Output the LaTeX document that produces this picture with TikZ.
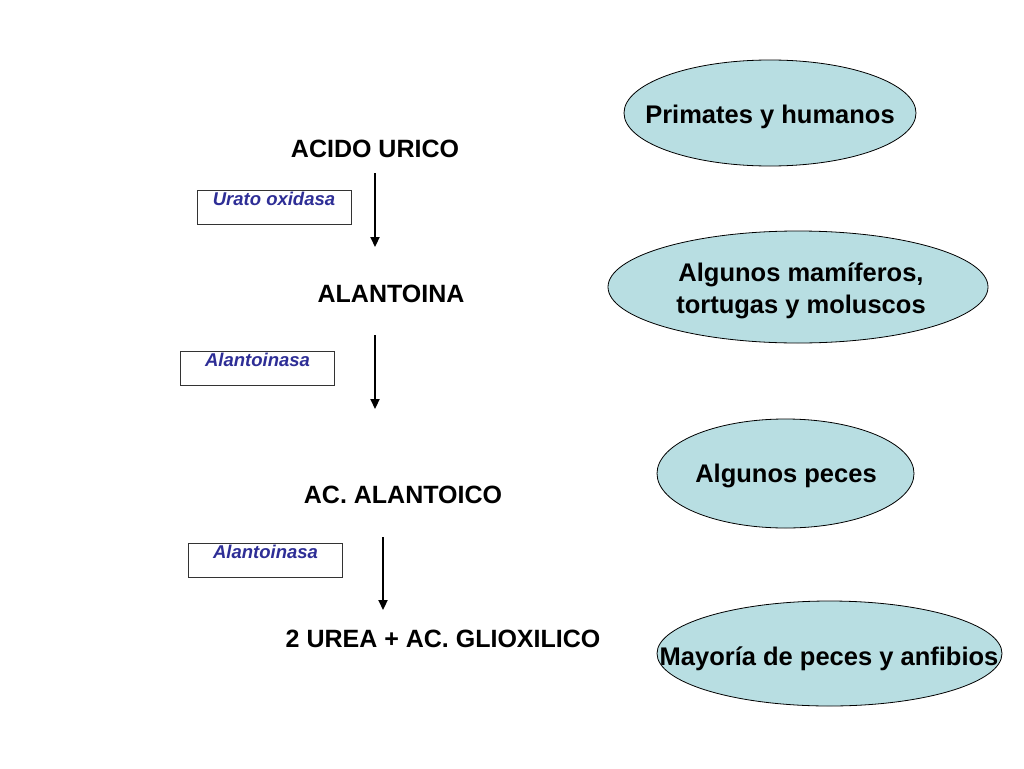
\documentclass[tikz,border=0pt]{standalone}
\usepackage{fontspec}
\setmainfont{Liberation Sans}
\usetikzlibrary{shapes.geometric,arrows.meta}
\definecolor{ellfill}{RGB}{184,222,226}
\definecolor{enzblue}{RGB}{46,46,150}
\tikzset{
  x=1pt,y=-1pt,
  mainlbl/.style={font=\fontsize{25}{30}\selectfont\bfseries, inner sep=0pt},
  enzbox/.style={draw=black!80, line width=0.8pt, minimum width=154pt, minimum height=34pt, inner sep=0pt},
  enztxt/.style={font=\fontsize{18.5}{22}\selectfont\bfseries\itshape, text=enzblue, inner sep=0pt, anchor=north},
  organism/.style={ellipse, draw=black, line width=0.8pt, fill=ellfill, inner sep=0pt},
  orgtxt/.style={align=center, inner sep=0pt, font=\fontsize{25.5}{32}\selectfont\bfseries},
  reacarrow/.style={line width=2.2pt, -{Triangle[width=9pt,length=10pt]}}
}
\begin{document}
\begin{tikzpicture}
\useasboundingbox (0,0) rectangle (1024,768);
\fill[white] (0,0) rectangle (1024,768);
% metabolites
\node[mainlbl] (acu) at (375,149) {ACIDO URICO};
\node[mainlbl] (alan) at (391,294) {ALANTOINA};
\node[mainlbl] (acal) at (403,495) {AC. ALANTOICO};
\node[mainlbl] (urea) at (443,639) {2 UREA + AC. GLIOXILICO};
% arrows
\coordinate (a1s) at (375,173); \coordinate (a1e) at (375,247);
\coordinate (a2s) at (375,335); \coordinate (a2e) at (375,409);
\coordinate (a3s) at (383,537); \coordinate (a3e) at (383,610);
\draw[reacarrow] (a1s) -- (a1e);
\draw[reacarrow] (a2s) -- (a2e);
\draw[reacarrow] (a3s) -- (a3e);
% enzyme boxes
\node[enzbox] (b1) at (274,207) {};
\node[enztxt] (t1) at ([yshift=-2.5pt]b1.north) {Urato oxidasa};
\node[enzbox] (b2) at (257.5,368) {};
\node[enztxt] (t2) at ([yshift=-2.5pt]b2.north) {Alantoinasa};
\node[enzbox] (b3) at (265.5,560) {};
\node[enztxt] (t3) at ([yshift=-2.5pt]b3.north) {Alantoinasa};
% organisms
\node[organism, minimum width=292pt, minimum height=106pt] (e1) at (770,113) {};
\node[orgtxt] (o1) at (770,117) {Primates y humanos};
\node[organism, minimum width=380pt, minimum height=112pt] (e2) at (798,287) {};
\node[orgtxt] (o2) at (801,291) {Algunos mamíferos,\\tortugas y moluscos};
\node[organism, minimum width=257pt, minimum height=109pt] (e3) at (785.5,473.5) {};
\node[orgtxt] (o3) at (786,476) {Algunos peces};
\node[organism, minimum width=345pt, minimum height=105pt] (e4) at (829.5,653.5) {};
\node[orgtxt] (o4) at (829,659) {Mayoría de peces y anfibios};
\end{tikzpicture}
\end{document}
